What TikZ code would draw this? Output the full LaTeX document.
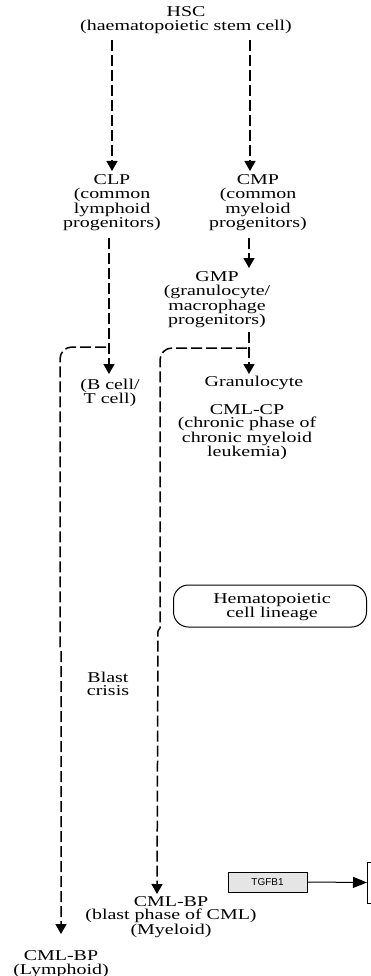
\documentclass[tikz,border=0pt]{standalone}
\usepackage{fontspec}
\setmainfont{Liberation Serif}[FakeStretch=1.33]
\newfontfamily\genefont{Liberation Sans}
\usetikzlibrary{arrows.meta}
\begin{document}
\begin{tikzpicture}[x=1pt,y=-1pt,
  lbl/.style={inner sep=0pt,align=center,font=\fontsize{15}{13.5}\selectfont},
  dasharrow/.style={line width=1.5pt,dash pattern=on 11pt off 4pt,-{Triangle[width=11pt,length=10pt]}},
  solidarrow/.style={line width=1pt,-{Triangle[width=11pt,length=14pt]}},
  genebox/.style={draw,line width=1pt,fill=gray!20,minimum width=79pt,minimum height=20pt,inner sep=0pt,font=\genefont\fontsize{10}{12}\selectfont},
  mapbox/.style={draw,line width=1pt,rounded corners=15pt,minimum width=193pt,minimum height=42pt,inner sep=0pt}
]
\useasboundingbox (0,0) rectangle (371,976);
\fill[white] (0,0) rectangle (371,976);

\node[lbl] (hsc) at (186,20) {HSC\\(haematopoietic stem cell)};
\node[lbl] (clp) at (112,203) {CLP\\(common\\lymphoid\\progenitors)};
\node[lbl] (cmp) at (258,203) {CMP\\(common\\myeloid\\progenitors)};
\node[lbl] (gmp) at (217,300) {GMP\\(granulocyte/\\macrophage\\progenitors)};
\node[lbl] (gran) at (254,383) {Granulocyte};
\node[lbl] (bt) at (110,393) {(B cell/\\T cell)};
\node[lbl] (cp) at (247,432) {CML-CP\\(chronic phase of\\chronic myeloid\\leukemia)};
\node[mapbox] (hem) at (270,606) {};
\node[lbl] (hemt) at (272,607) {Hematopoietic\\cell lineage};
\node[lbl] (blast) at (108,684) {Blast\\crisis};
\node[lbl] (bpm) at (171,917) {CML-BP\\(blast phase of CML)\\(Myeloid)};
\node[lbl] (bpl) at (61,964) {CML-BP\\(Lymphoid)};
\node[genebox] (tgfb) at (267.5,882) {TGFB1};
\node[draw,line width=1pt,fill=white,minimum width=30pt,minimum height=41pt,inner sep=0pt,anchor=west] (tgt) at (367,882.5) {};

% coordinates for connector ends
\coordinate (a1s) at (112,40);
\coordinate (a1e) at (112,171);
\coordinate (a2s) at (250,40);
\coordinate (a2e) at (250,171);
\coordinate (a3s) at (109,238);
\coordinate (a3e) at (109,374);
\coordinate (a4s) at (249,238);
\coordinate (a4e) at (249,268);
\coordinate (a5s) at (249,332);
\coordinate (a5e) at (249,374);
\coordinate (b1) at (106,347);
\coordinate (b2) at (247,348);
\coordinate (lt) at (61,934);
\coordinate (rt) at (157,894);

\draw[dasharrow] (a1s) -- (a1e);
\draw[dasharrow] (a2s) -- (a2e);
\draw[dasharrow] (a3s) -- (a3e);
\draw[dasharrow] (a4s) -- (a4e);
\draw[dasharrow] (a5s) -- (a5e);
\draw[dasharrow] (b1) [rounded corners=12pt] -- (60,347) -- (60,400) [sharp corners] -- (60,647) -- (61,650) -- (lt);
\draw[dasharrow] (b2) [rounded corners=12pt] -- (160,348) -- (160,400) [sharp corners] -- (160,628) -- (158,631) -- (rt);
\draw[solidarrow] (tgfb.east) -- (tgt.west);
\end{tikzpicture}
\end{document}
